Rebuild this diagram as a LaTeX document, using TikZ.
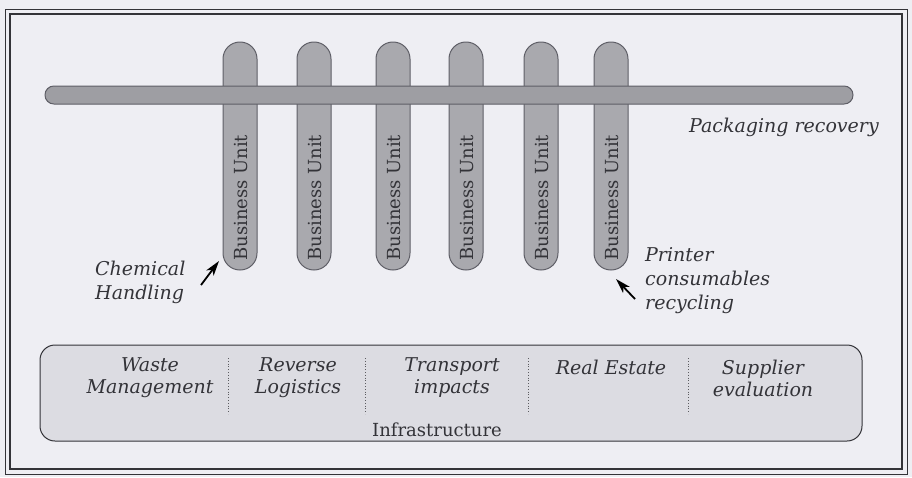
\documentclass[tikz,border=0pt]{standalone}
\usepackage{fontspec}
\setmainfont{DejaVu Serif}
\usetikzlibrary{arrows.meta}
\definecolor{paper}{HTML}{EEEEF3}
\definecolor{barfill}{HTML}{A9A9AE}
\definecolor{hbarfill}{HTML}{9E9EA3}
\definecolor{barline}{HTML}{5E5E66}
\definecolor{boxfill}{HTML}{DCDCE2}
\definecolor{ink}{HTML}{333338}
\tikzset{
  vbar/.style={draw=barline, line width=1pt, fill=barfill, rounded corners=16.9pt,
    minimum width=34pt, minimum height=228pt, inner sep=0pt},
  hbar/.style={draw=barline, line width=1pt, fill=hbarfill, rounded corners=8.9pt,
    minimum width=808pt, minimum height=18pt, inner sep=0pt},
  bulabel/.style={rotate=90, font=\fontsize{18}{20}\selectfont, text=ink, anchor=west, inner sep=0pt},
  itlabel/.style={font=\itshape\fontsize{19}{22}\selectfont, text=ink, align=center, inner sep=0pt},
  itleft/.style={font=\itshape\fontsize{19}{24}\selectfont, text=ink, align=left, inner sep=0pt},
  divider/.style={draw=ink!80, dotted, line width=0.8pt},
  pointer/.style={draw=black, line width=1.8pt, -{Stealth[length=15pt,width=9pt,inset=4pt]}}
}
\begin{document}
\begin{tikzpicture}[x=1pt,y=-1pt]
\useasboundingbox (0,0) rectangle (912,477);
\fill[paper] (0,0) rectangle (912,477);
% frame
\draw[ink, line width=1pt] (5,9) rectangle (907,474);
\draw[ink, line width=2pt] (10,14) rectangle (902,469);
% vertical bars
\foreach \i/\x in {1/240,2/314,3/393,4/466,5/541,6/611}{
  \node[vbar] (bu\i) at (\x,156) {};
  \node[bulabel] (bt\i) at (\x+1,261) {Business Unit};
}
% horizontal bar
\node[hbar] (hb) at (449,95) {};
\node[itlabel, anchor=east] (pack) at (879,127) {Packaging recovery};
% labels
\node[itleft, anchor=west] (chem) at (95,282) {Chemical\\Handling};
\node[itleft, anchor=west] (prn) at (645,281) {Printer\\consumables\\recycling};
\coordinate (chemtail) at (201,285);
\coordinate (chemtip) at (219,261);
\coordinate (prntail) at (635,299);
\coordinate (prntip) at (616,279);
\draw[pointer] (chemtail) -- (chemtip);
\draw[pointer] (prntail) -- (prntip);
% infrastructure
\node[draw=ink, line width=1pt, fill=boxfill, rounded corners=15pt,
  minimum width=822pt, minimum height=96pt] (infra) at (451,393) {};
\node[font=\fontsize{18}{20}\selectfont, text=ink] (inftxt) at (437,430) {Infrastructure};
\node[itlabel] (w) at (150,378) {Waste\\Management};
\node[itlabel] (r) at (298,378) {Reverse\\Logistics};
\node[itlabel] (t) at (452,378) {Transport\\impacts};
\node[itlabel] (re) at (611,367) {Real Estate};
\node[itlabel] (s) at (763,378) {Supplier\\evaluation};
\foreach \x in {228,365,528,688}{
  \draw[divider] (\x,358) -- (\x,414);
}
\end{tikzpicture}
\end{document}
